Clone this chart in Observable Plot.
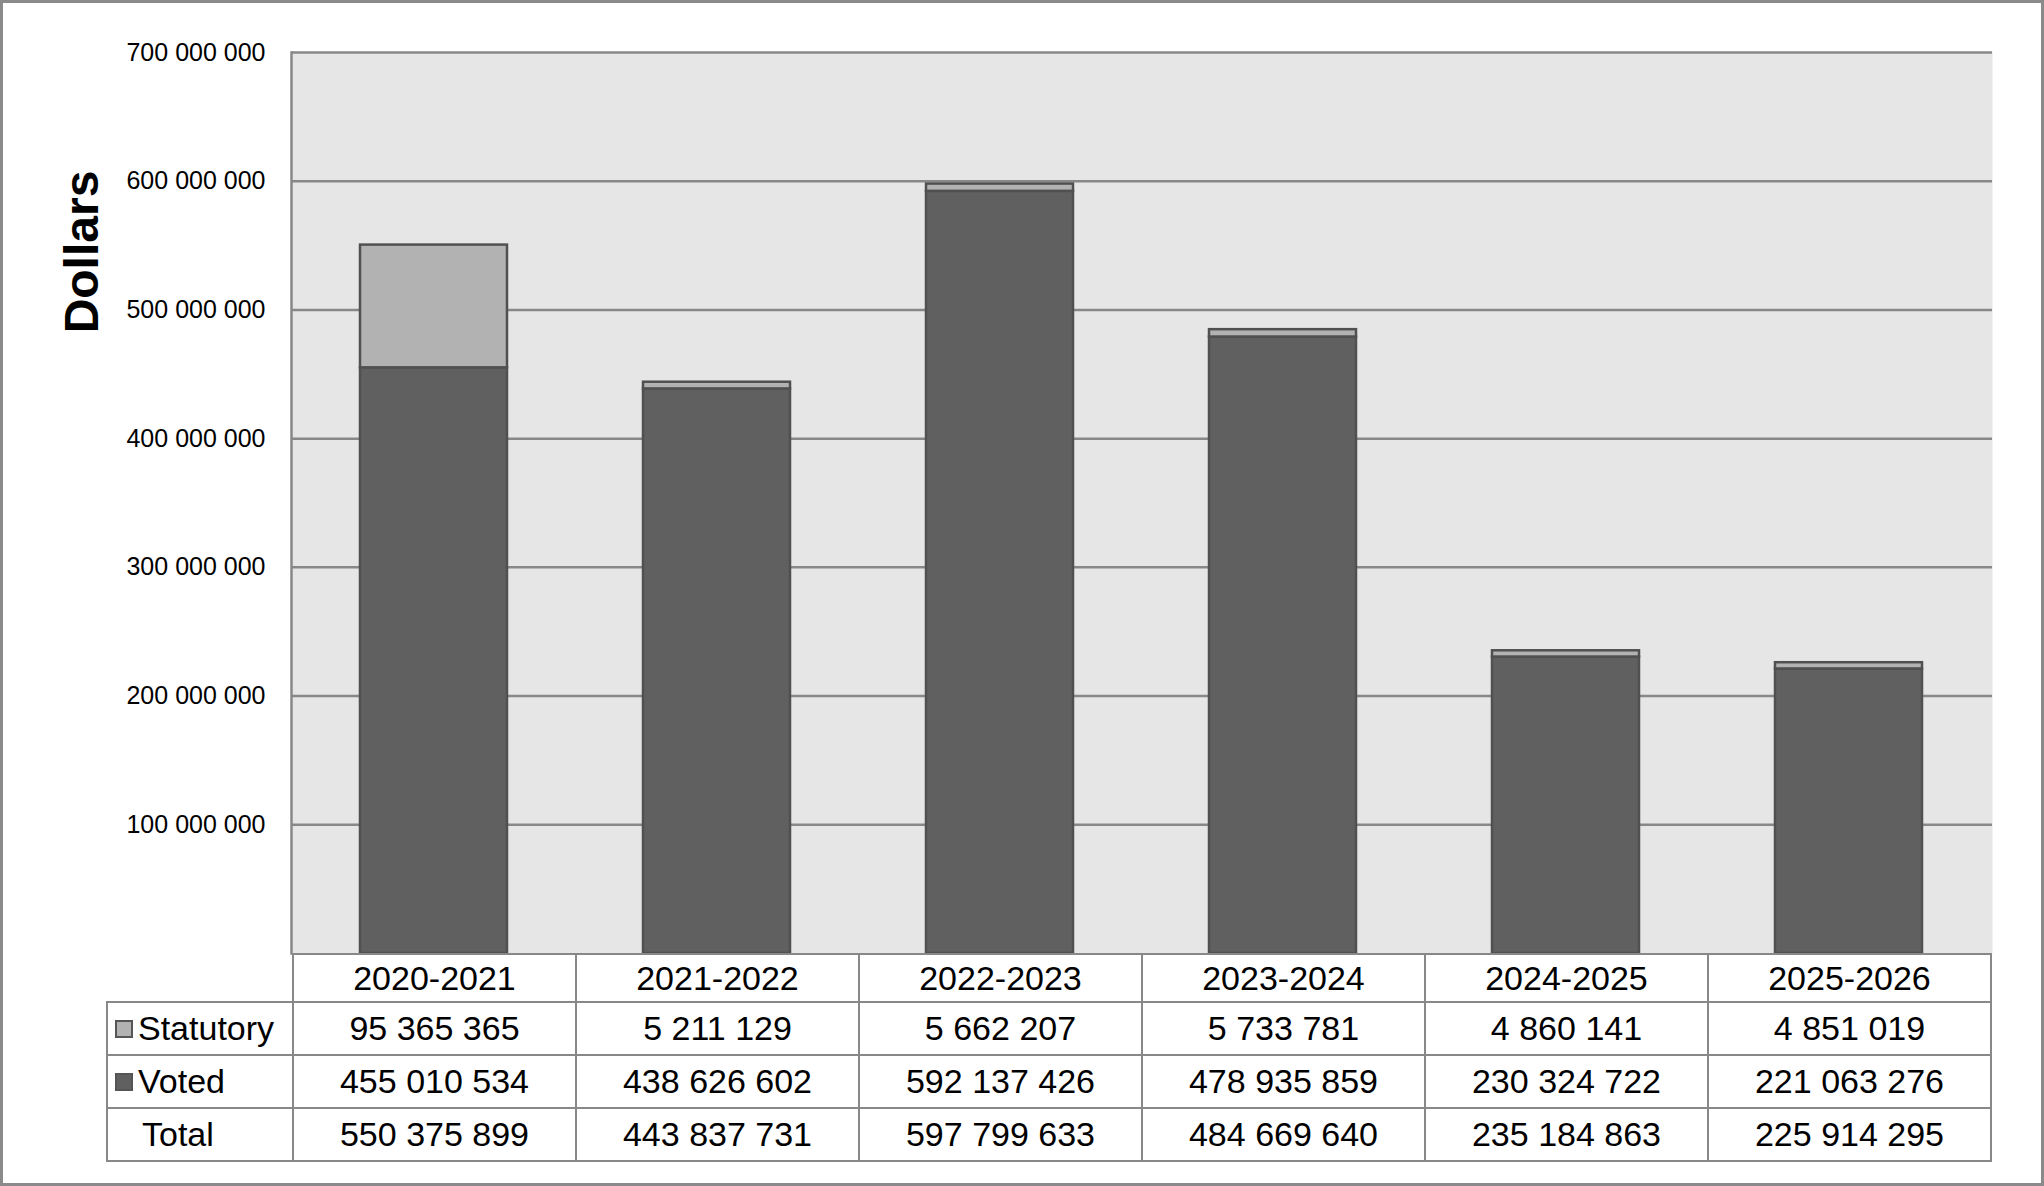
<!DOCTYPE html>
<html><head><meta charset="utf-8">
<script src="https://cdn.jsdelivr.net/npm/d3@7"></script>
<script src="https://cdn.jsdelivr.net/npm/@observablehq/plot@0.6"></script>
<style>
body{margin:0;background:#fff;}
#wrap{position:relative;width:2044px;height:1186px;overflow:hidden;font-family:"Liberation Sans",Arial,sans-serif;background:#fff;}
#border{position:absolute;left:0;top:0;width:2044px;height:1186px;box-sizing:border-box;border:3px solid #8a8a8a;pointer-events:none;}
#chart{position:absolute;left:0;top:0;}
#ylabel{position:absolute;left:81px;top:252px;transform:translate(-50%,-50%) rotate(-90deg);font-weight:bold;font-size:48px;white-space:nowrap;color:#000;}
#tbl{position:absolute;border-collapse:collapse;table-layout:fixed;font-size:34px;color:#000;}
#tbl td{border:2.5px solid #888;text-align:center;padding:0;white-space:nowrap;overflow:hidden;}
#tbl td.lab{text-align:left;padding-left:7px;}
#tbl td.blank{border:none;}
.sw{display:inline-block;width:14px;height:14px;border:2px solid #555;margin-right:5px;vertical-align:middle;position:relative;top:-2px;}
</style></head>
<body><div id="wrap"><div id="chart"></div><div id="ylabel">Dollars</div><div id="border"></div></div>
<script>
const years = ["2020-2021","2021-2022","2022-2023","2023-2024","2024-2025","2025-2026"];
const statutory = [95365365, 5211129, 5662207, 5733781, 4860141, 4851019];
const voted = [455010534, 438626602, 592137426, 478935859, 230324722, 221063276];
const totals = [550375899, 443837731, 597799633, 484669640, 235184863, 225914295];
const series = ["Voted","Statutory"];
const seriesColors = ["#606060","#b2b2b2"];
const yTicks = [100e6,200e6,300e6,400e6,500e6,600e6,700e6];

const fmt = v => d3.format(",")(v).replace(/,/g, " ");
const rows = years.flatMap((y, i) => [
  {year: y, type: "Voted", value: voted[i]},
  {year: y, type: "Statutory", value: statutory[i]}
]);

const W = 2044, H = 955, mL = 291, mR = 52, mT = 52, mB = 2;
const plot = Plot.plot({
  width: W, height: H, marginLeft: mL, marginRight: mR, marginTop: mT, marginBottom: mB,
  style: {fontFamily: "Liberation Sans, Arial, sans-serif", background: "transparent", overflow: "visible", color: "#000"},
  x: {domain: years, paddingInner: 0.48, paddingOuter: 0.24, axis: null},
  y: {domain: [0, 700e6], axis: null},
  color: {domain: series, range: seriesColors},
  marks: [
    Plot.frame({fill: "#e6e6e6", stroke: null}),
    Plot.ruleY(yTicks, {stroke: "#888", strokeWidth: 2.5}),
    Plot.frame({anchor: "left", stroke: "#888", strokeWidth: 2.5}),
    Plot.axisY(yTicks, {tickSize: 0, tickPadding: 26, tickFormat: fmt, fontSize: 25, label: null}),
    Plot.barY(rows, {x: "year", y: "value", fill: "type", order: series, stroke: "#505050", strokeWidth: 2.5})
  ]
});
document.getElementById("chart").appendChild(plot);

// table aligned to the x scale
const xs = plot.scale("x");
const step = xs.step, bw = xs.bandwidth;
const colLeft = xs.apply(years[0]) - (step - bw) / 2;
const yScale = plot.scale("y");
const tableTop = yScale.apply(0);
const labelW = 186;
const rowHeights = [48, 53, 53, 53];

const tbl = document.createElement("table");
tbl.id = "tbl";
tbl.style.left = (colLeft - labelW) + "px";
tbl.style.top = tableTop + "px";
tbl.style.width = (labelW + step * years.length) + "px";
const cg = document.createElement("colgroup");
[labelW, ...years.map(() => step)].forEach(w => {
  const c = document.createElement("col"); c.style.width = w + "px"; cg.appendChild(c);
});
tbl.appendChild(cg);

function addRow(labelHTML, cells, h, cls) {
  const tr = document.createElement("tr");
  tr.style.height = h + "px";
  const td0 = document.createElement("td");
  td0.className = cls;
  td0.innerHTML = labelHTML;
  tr.appendChild(td0);
  cells.forEach(t => { const td = document.createElement("td"); td.textContent = t; tr.appendChild(td); });
  tbl.appendChild(tr);
}
addRow("", years, rowHeights[0], "blank");
addRow(`<span class="sw" style="background:${seriesColors[1]}"></span>Statutory`, statutory.map(fmt), rowHeights[1], "lab");
addRow(`<span class="sw" style="background:${seriesColors[0]}"></span>Voted`, voted.map(fmt), rowHeights[2], "lab");
addRow(`<span style="display:inline-block;width:27px"></span>Total`, totals.map(fmt), rowHeights[3], "lab");
document.getElementById("wrap").appendChild(tbl);
</script>
</body></html>
